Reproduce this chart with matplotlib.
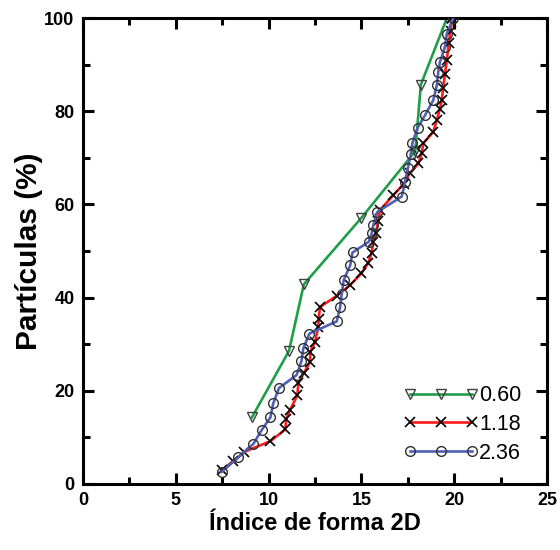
import matplotlib
matplotlib.use("Agg")
import matplotlib.pyplot as plt
from matplotlib.ticker import MultipleLocator

plt.rcParams['font.family'] = ['Liberation Sans', 'DejaVu Sans']

labels = ["0.60", "1.18", "2.36"]

x_060 = [9.1, 11.1, 11.9, 15.0, 17.9, 18.2, 19.6]
y_060 = [14.29, 28.57, 42.86, 57.14, 71.43, 85.71, 100.0]

x_118 = [7.47, 8.1, 8.7, 10.1, 10.9, 10.95, 11.15, 11.55, 11.6, 11.9, 12.23, 12.25,
         12.5, 12.68, 12.7, 12.77, 13.67, 14.39, 15.0, 15.37, 15.55, 15.64, 15.77,
         15.91, 16.0, 16.72, 17.3, 17.6, 18.07, 18.25, 18.33, 18.87, 19.06, 19.23,
         19.33, 19.4, 19.5, 19.6, 19.7, 19.8, 19.9]
y_118 = [3.0, 4.9, 6.9, 9.2, 11.7, 13.9, 15.9, 19.0, 21.6, 23.8, 26.2, 28.4,
         30.5, 33.8, 35.5, 38.0, 40.4, 42.7, 45.2, 47.5, 49.6, 52.0, 53.8,
         56.5, 58.8, 62.0, 64.5, 66.7, 68.8, 71.0, 73.1, 75.6, 78.1, 80.6,
         82.4, 85.0, 88.0, 91.0, 94.6, 97.3, 100.0]

x_236 = [7.47, 8.37, 9.18, 9.63, 10.1, 10.25, 10.56, 11.51, 11.77, 11.87, 12.2,
         13.67, 13.85, 13.94, 14.05, 14.4, 14.52, 15.4, 15.55, 15.64, 15.86, 17.17,
         17.35, 17.5, 17.66, 17.75, 18.03, 18.43, 18.87, 19.06, 19.14, 19.23, 19.5,
         19.6, 19.95]
y_236 = [2.6, 5.7, 8.6, 11.6, 14.3, 17.3, 20.6, 23.4, 26.4, 29.1, 32.3,
         34.9, 37.9, 40.8, 43.8, 47.0, 49.7, 52.0, 53.8, 55.6, 58.4, 61.7,
         64.9, 67.8, 70.8, 73.3, 76.5, 79.2, 82.4, 85.6, 88.5, 90.6, 93.8,
         96.7, 100.0]

fig = plt.figure(figsize=(5.6, 5.5), dpi=100)
ax = fig.add_axes([0.148, 0.12, 0.829, 0.847])

ax.plot(x_060, y_060, color='#1f9e4a', lw=1.9, marker='v', ms=7, mfc='none',
        mec='#404040', mew=1.0, label=labels[0], zorder=2)
ax.plot(x_118, y_118, color='#ff1a1a', lw=1.9, marker='x', ms=7,
        mec='black', mew=1.2, label=labels[1], zorder=3)
ax.plot(x_236, y_236, color='#5060b8', lw=1.9, marker='o', ms=7, mfc='none',
        mec='#303030', mew=1.0, label=labels[2], zorder=4)

ax.set_xlim(0, 25)
ax.set_ylim(0, 100)
ax.xaxis.set_major_locator(MultipleLocator(5))
ax.xaxis.set_minor_locator(MultipleLocator(2.5))
ax.yaxis.set_major_locator(MultipleLocator(20))
ax.yaxis.set_minor_locator(MultipleLocator(10))
ax.tick_params(which='both', direction='in', top=True, right=True, width=2.2)
ax.tick_params(which='major', length=8, labelsize=13, pad=6)
ax.tick_params(which='minor', length=5)
for lab in ax.get_xticklabels() + ax.get_yticklabels():
    lab.set_fontweight('bold')
for s in ax.spines.values():
    s.set_linewidth(2.2)

ax.set_xlabel('Índice de forma 2D', fontsize=17, fontweight='bold', labelpad=2)
ax.set_ylabel('Partículas (%)', fontsize=21.5, fontweight='bold', labelpad=1)

ax.legend(loc='lower right', bbox_to_anchor=(0.986, 0.002), frameon=False,
          numpoints=3, handlelength=3.5, handletextpad=0.02, labelspacing=0.36,
          fontsize=15.5)

fig.savefig('out.png', dpi=100)
